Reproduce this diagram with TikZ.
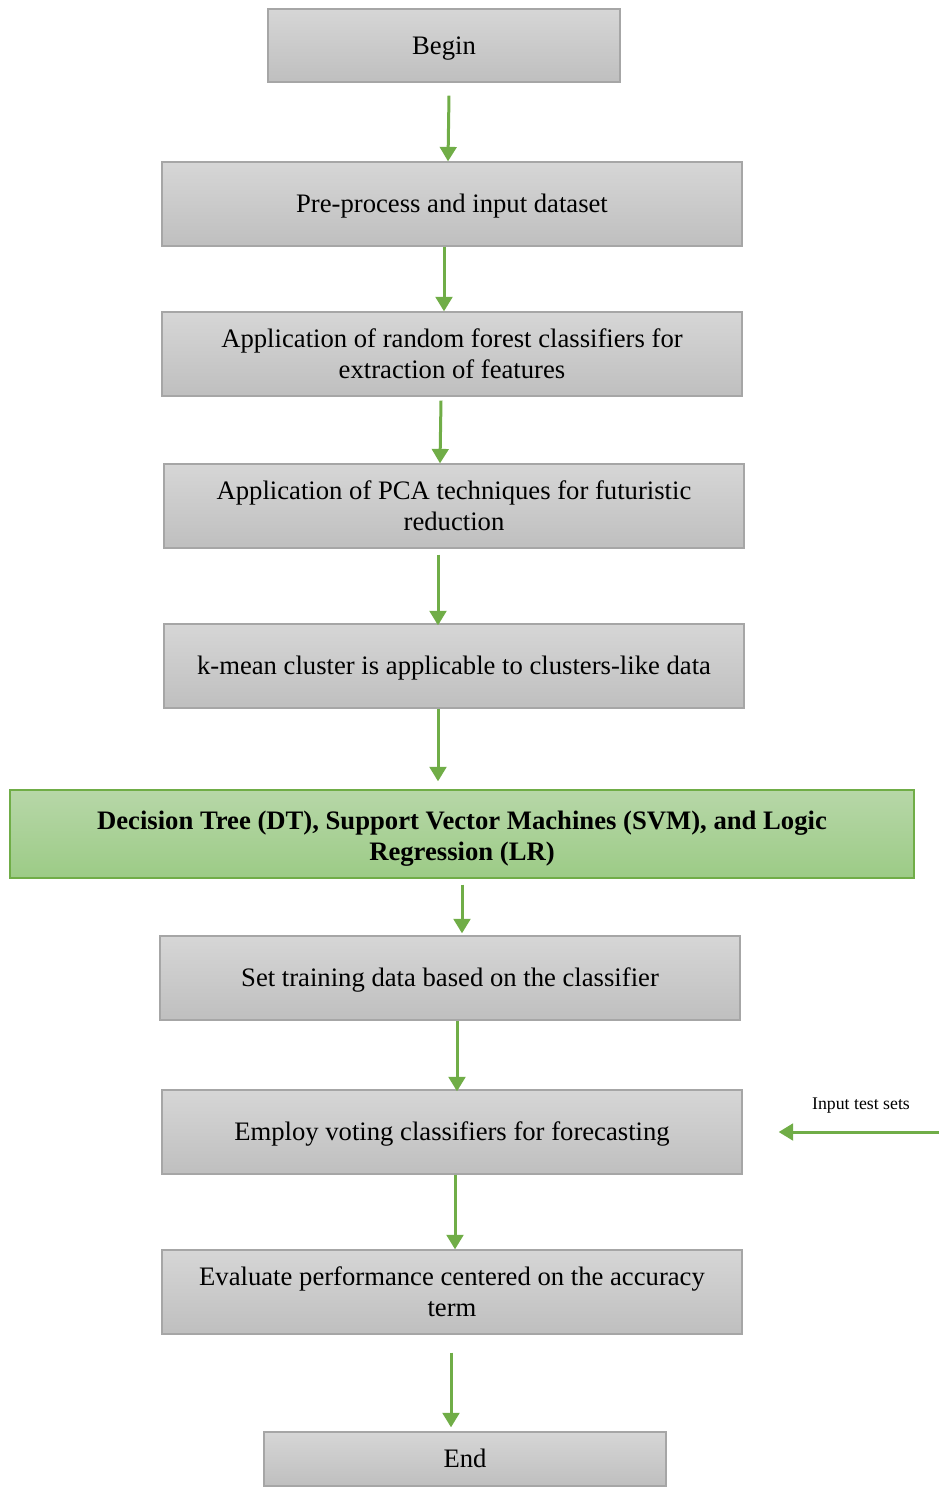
\documentclass[tikz,border=0pt]{standalone}
\usepackage{fontspec}
\setmainfont{Liberation Serif}
\usepackage{tikz}
\usepackage{xcolor}
\usetikzlibrary{
    arrows.meta,
    calc,
    positioning
}
\definecolor{flowgreen}{HTML}{70AD47}
\definecolor{boxedge}{HTML}{A6A6A6}
\definecolor{boxtop}{HTML}{D6D6D6}
\definecolor{boxbottom}{HTML}{BFBFBF}
\definecolor{greentop}{HTML}{B7D7A8}
\definecolor{greenbottom}{HTML}{9CCB86}
\tikzset{
    stage/.style={draw=boxedge, line width=0.6pt, top color=boxtop, bottom color=boxbottom,
        minimum width=261pt, minimum height=37.8pt, inner sep=0pt, align=center,
        font=\fontsize{12}{14}\selectfont},
    oneline/.style={text height=8pt, text depth=0pt},
    modelbox/.style={stage, draw=flowgreen, top color=greentop, bottom color=greenbottom,
        minimum width=406.8pt, minimum height=39.6pt, font=\fontsize{12}{14}\selectfont\bfseries},
    flow/.style={draw=flowgreen, line width=1.35pt, -{Triangle[length=6.5pt,width=7.5pt]}}
}

\begin{document}
\begin{tikzpicture}[x=0.45pt, y=-0.45pt]
    \useasboundingbox (0, 0) rectangle (939, 1487);
    \node[stage, oneline, minimum width=158.4pt, minimum height=32.9pt] (begin) at (444, 45.5) {Begin};
    \node[stage, oneline] (pre) at (452, 204) {Pre-process and input dataset};
    \node[stage] (forest) at (452, 354) {Application of random forest classifiers for\\extraction of features};
    \node[stage] (pca) at (454, 506) {Application of PCA techniques for futuristic\\reduction};
    \node[stage, oneline] (kmean) at (454, 666) {k-mean cluster is applicable to clusters-like data};
    \node[modelbox] (models) at (462, 834) {\rule{0pt}{12.5pt}Decision Tree (DT), Support Vector Machines (SVM), and Logic\\Regression (LR)};
    \node[stage, oneline] (train) at (450, 978) {Set training data based on the classifier};
    \node[stage, oneline] (vote) at (452, 1132) {Employ voting classifiers for forecasting};
    \node[stage] (eval) at (452, 1292) {Evaluate performance centered on the accuracy\\term};
    \node[stage, oneline, minimum width=180.9pt, minimum height=24.3pt] (end) at (465, 1459) {End};
    \coordinate (testin) at (939, 1132);
    \node[font=\fontsize{8}{10}\selectfont] (testlbl) at (861, 1106) {Input test sets};
    \draw
    ($(begin.south)+(5,13)$) edge[flow] ($(pre.north)+(-4,0)$)
    ($(pre.south)+(-8,0)$) edge[flow] ($(forest.north)+(-8,0)$)
    ($(forest.south)+(-11,4)$) edge[flow] ($(pca.north)+(-14,0)$)
    ($(pca.south)+(-16,6)$) edge[flow] ($(kmean.north)+(-16,2)$)
    ($(kmean.south)+(-16,0)$) edge[flow] ($(models.north)+(-24,-8)$)
    ($(models.south)+(0,6)$) edge[flow] ($(train.north)+(12,-2)$)
    ($(train.south)+(7,0)$) edge[flow] ($(vote.north)+(5,2)$)
    ($(vote.south)+(3,0)$) edge[flow] ($(eval.north)+(3,0)$)
    ($(eval.south)+(-1,18)$) edge[flow] ($(end.north)+(-14,-4)$)
    (testin) edge[flow] ($(vote.east)+(36,0)$);
\end{tikzpicture}
\end{document}
